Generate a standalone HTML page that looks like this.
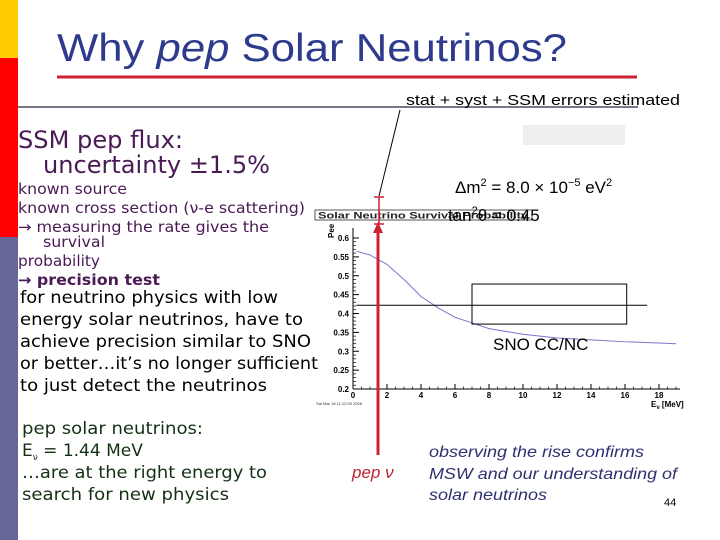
<!DOCTYPE html>
<html><head><meta charset="utf-8"><style>
html,body{margin:0;padding:0;background:#fff;}
svg{display:block;}
.v{font-family:"DejaVu Sans",sans-serif;}
.a{font-family:"Liberation Sans",sans-serif;}
</style></head><body>
<svg id="s" width="720" height="540" viewBox="0 0 720 540" xmlns="http://www.w3.org/2000/svg">
<rect x="0" y="0" width="18" height="58" fill="#ffcc00"/>
<rect x="0" y="58" width="18" height="179" fill="#ff0000"/>
<rect x="0" y="237" width="18" height="303" fill="#666699"/>
<text x="57" y="61" class="a" font-size="39" fill="#2e3a8c" textLength="510" lengthAdjust="spacingAndGlyphs">Why <tspan font-style="italic">pep</tspan> Solar Neutrinos?</text>
<line x1="57" y1="77" x2="637" y2="77" stroke="#cc2233" stroke-width="3"/>
<line x1="18" y1="107" x2="638" y2="107" stroke="#777788" stroke-width="2"/>
<text x="406" y="105" class="a" font-size="15" fill="#000" textLength="274" lengthAdjust="spacingAndGlyphs">stat + syst + SSM errors estimated</text>
<line x1="400" y1="110" x2="379" y2="196" stroke="#000" stroke-width="1"/>
<rect x="523" y="125" width="102" height="20" fill="#eeeeee"/>

<g class="v" fill="#4a1a55">
<text x="18" y="148" font-size="24" textLength="165" lengthAdjust="spacingAndGlyphs">SSM pep flux:</text>
<text x="43" y="173" font-size="24" textLength="227" lengthAdjust="spacingAndGlyphs">uncertainty ±1.5%</text>
<text x="18" y="194" font-size="15" textLength="109" lengthAdjust="spacingAndGlyphs">known source</text>
<text x="18" y="213" font-size="15" textLength="287" lengthAdjust="spacingAndGlyphs">known cross section (ν-e scattering)</text>
<text x="18" y="232" font-size="15" textLength="251" lengthAdjust="spacingAndGlyphs">→ measuring the rate gives the</text>
<text x="43" y="247" font-size="15" textLength="62" lengthAdjust="spacingAndGlyphs">survival</text>
<text x="18" y="266" font-size="15" textLength="82" lengthAdjust="spacingAndGlyphs">probability</text>
<text x="18" y="285" font-size="15" font-weight="bold" textLength="142" lengthAdjust="spacingAndGlyphs">→ precision test</text>
</g>
<g class="v" fill="#000" font-size="17">
<text x="20" y="303" textLength="258" lengthAdjust="spacingAndGlyphs">for neutrino physics with low</text>
<text x="20" y="325" textLength="283" lengthAdjust="spacingAndGlyphs">energy solar neutrinos, have to</text>
<text x="20" y="347" textLength="291" lengthAdjust="spacingAndGlyphs">achieve precision similar to SNO</text>
<text x="20" y="369" textLength="298" lengthAdjust="spacingAndGlyphs">or better…it’s no longer sufficient</text>
<text x="20" y="391" textLength="247" lengthAdjust="spacingAndGlyphs">to just detect the neutrinos</text>
</g>
<g class="v" fill="#143014" font-size="17">
<text x="22" y="434" textLength="181" lengthAdjust="spacingAndGlyphs">pep solar neutrinos:</text>
<text x="22" y="456">E<tspan font-size="9" dy="4">ν</tspan><tspan dy="-4"> = 1.44 MeV</tspan></text>
<text x="22" y="478" textLength="245" lengthAdjust="spacingAndGlyphs">…are at the right energy to</text>
<text x="22" y="500" textLength="207" lengthAdjust="spacingAndGlyphs">search for new physics</text>
</g>

<g id="chart">
<rect x="315" y="210" width="217" height="10" fill="#fff" stroke="#555" stroke-width="1"/>
<text x="318" y="218.5" class="a" font-size="9" font-weight="bold" fill="#222" textLength="210" lengthAdjust="spacingAndGlyphs">Solar Neutrino Survival Probability</text>
<line x1="353" y1="228" x2="353" y2="389" stroke="#000" stroke-width="1"/>
<line x1="353" y1="389" x2="680" y2="389" stroke="#000" stroke-width="1"/>
<text x="334" y="238" class="a" font-size="8" font-weight="bold" fill="#000" transform="rotate(-90 334 238)">Pee</text>
<text x="651" y="407" class="a" font-size="8" font-weight="bold" fill="#000">E<tspan font-size="6" dy="2">ν</tspan><tspan dy="-2"> [MeV]</tspan></text>
<text x="316" y="405" class="a" font-size="4" fill="#333">Sat Mar 18 11:12:00 2006</text>
</g>
<text x="455" y="193" class="a" font-size="17" fill="#000">Δm<tspan font-size="11" dy="-7">2</tspan><tspan dy="7"> = 8.0 × 10</tspan><tspan font-size="11" dy="-7">−5</tspan><tspan dy="7"> eV</tspan><tspan font-size="11" dy="-7">2</tspan></text>
<text x="448" y="221" class="a" font-size="17" fill="#000">tan<tspan font-size="11" dy="-7">2</tspan><tspan dy="7">θ = 0.45</tspan></text>
<text x="493" y="350" class="a" font-size="17" fill="#000">SNO CC/NC</text>

<line x1="379" y1="197" x2="379" y2="224" stroke="#cc2233" stroke-width="1.5"/>
<line x1="374" y1="197" x2="384" y2="197" stroke="#cc2233" stroke-width="1.5"/>
<line x1="374" y1="224" x2="384" y2="224" stroke="#cc2233" stroke-width="1.5"/>
<line x1="378" y1="232" x2="378" y2="455" stroke="#cc2233" stroke-width="3"/>
<polygon points="378,222 373,233 383,233" fill="#cc2233"/>
<text x="352" y="478" class="a" font-size="17" font-style="italic" fill="#bb2233">pep ν</text>
<g class="a" font-size="16" font-style="italic" fill="#2e3070">
<text x="429" y="457" textLength="215" lengthAdjust="spacingAndGlyphs">observing the rise confirms</text>
<text x="429" y="479" textLength="248" lengthAdjust="spacingAndGlyphs">MSW and our understanding of</text>
<text x="429" y="500" textLength="118" lengthAdjust="spacingAndGlyphs">solar neutrinos</text>
</g>
<text x="664" y="506" class="a" font-size="11" fill="#000">44</text>
</svg>
<script>
const energies = [0.2,1,2,3,4,5,6,7,8,10,12,14,16,18,19];
const survival = [0.565,0.555,0.53,0.49,0.445,0.415,0.39,0.375,0.36,0.345,0.335,0.33,0.325,0.322,0.32];
const yTicks = [0.2,0.25,0.3,0.35,0.4,0.45,0.5,0.55,0.6];
const xTicks = [0,2,4,6,8,10,12,14,16,18];
const snoValue = [0.422];
const snoBand = [0.372,0.478];
const snoRange = [7,16.1];
const snoLineRange = [0.2,17.3];

const NS='http://www.w3.org/2000/svg';
const sx = v => 353 + v*17;
const sy = v => 389 - (v-0.2)*377.5;
const g = document.getElementById('chart');
function mk(tag, attrs){const e=document.createElementNS(NS,tag);for(const k in attrs)e.setAttribute(k,attrs[k]);g.appendChild(e);return e;}

yTicks.forEach(t=>{
  const l=mk('line',{x1:353,x2:359,y1:sy(t),y2:sy(t),stroke:'#000','stroke-width':1});
  
  
  const tx=mk('text',{x:349,y:sy(t)+3,'text-anchor':'end','font-size':8,'font-weight':'bold','font-family':'Liberation Sans, sans-serif'});
  tx.textContent=String(t);
  
  
});
for(let i=0;i<yTicks.length-1;i++){for(let k=1;k<5;k++){const v=yTicks[i]+(yTicks[i+1]-yTicks[i])*k/5;
  const l=mk('line',{x1:353,x2:356,y1:sy(v),y2:sy(v),stroke:'#000','stroke-width':0.7});
  
  }}
xTicks.forEach(t=>{
  const l=mk('line',{x1:sx(t),x2:sx(t),y1:389,y2:384,stroke:'#000','stroke-width':1});
  
  
  const tx=mk('text',{x:sx(t),y:398,'text-anchor':'middle','font-size':8,'font-weight':'bold','font-family':'Liberation Sans, sans-serif'});
  tx.textContent=String(t);
  
  
  [0.5,1,1.5].forEach(d=>{if(sx(t+d)<680){const m=mk('line',{x1:sx(t+d),x2:sx(t+d),y1:389,y2:386.5,stroke:'#000','stroke-width':0.7});
    
    }});
});
const path=mk('polyline',{points:energies.map((e,i)=>sx(e)+','+sy(survival[i])).join(' '),fill:'none',stroke:'#7777cc','stroke-width':1});


const box=mk('rect',{x:sx(snoRange[0]),y:sy(snoBand[1]),width:sx(snoRange[1])-sx(snoRange[0]),height:sy(snoBand[0])-sy(snoBand[1]),fill:'none',stroke:'#000','stroke-width':1});


const hl=mk('line',{x1:sx(snoLineRange[0]),x2:sx(snoLineRange[1]),y1:sy(snoValue[0]),y2:sy(snoValue[0]),stroke:'#000','stroke-width':1});


</script>
</body></html>
